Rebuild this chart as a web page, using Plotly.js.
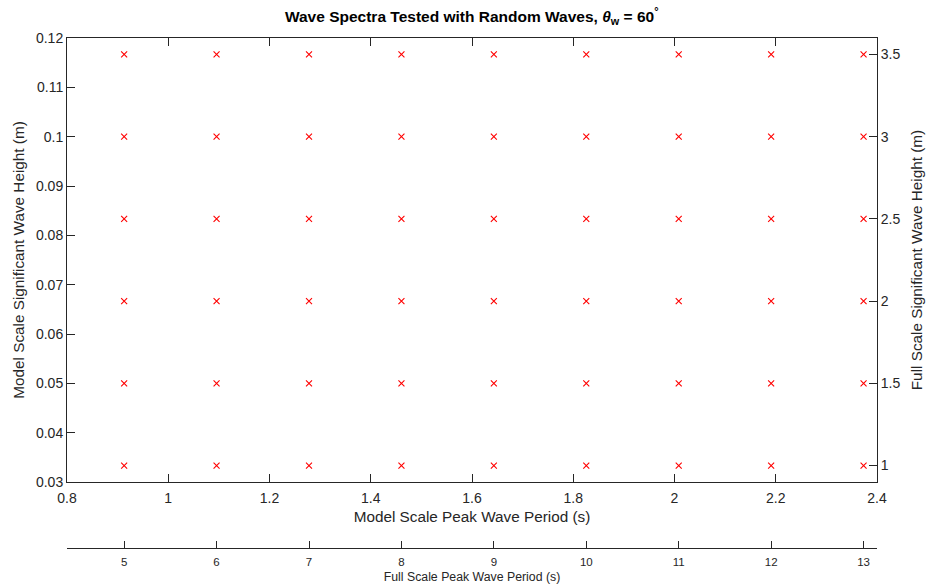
<!DOCTYPE html>
<html>
<head>
<meta charset="utf-8">
<script src="https://cdn.plot.ly/plotly-3.0.1.min.js"></script>
<style>html,body{margin:0;padding:0;background:#fff;}#chart{width:936px;height:585px;}</style>
</head>
<body>
<div id="chart"></div>
<script>
// Full-scale test matrix
const fullScalePeriods = [5, 6, 7, 8, 9, 10, 11, 12, 13];          // s
const fullScaleHeights = [1, 1.5, 2, 2.5, 3, 3.5];                   // m
// Axis ranges
const modelPeriodRange = [0.8, 2.4];
const modelHeightRange = [0.03, 0.12];
const fullPeriodRange = [4.3818, 13.1453];
const fullHeightRange = [0.9, 3.6];

const px = [], py = [];
fullScaleHeights.forEach(h => fullScalePeriods.forEach(t => { px.push(t); py.push(h); }));

const font = "Liberation Sans, Arial, Helvetica, sans-serif";
const dark = "#262626";

const traces = [
  {x: [], y: [], type: 'scatter', mode: 'markers', xaxis: 'x', yaxis: 'y', showlegend: false, hoverinfo: 'skip'},
  {x: px, y: py, type: 'scatter', mode: 'markers', xaxis: 'x2', yaxis: 'y2', showlegend: false,
   marker: {symbol: 'x-thin', size: 6, color: 'rgba(0,0,0,0)', line: {color: '#ff0000', width: 1.1}}}
];

const layout = {
  width: 936, height: 585,
  margin: {l: 67, r: 59, t: 38, b: 37},
  paper_bgcolor: '#fff', plot_bgcolor: '#fff',
  showlegend: false,
  font: {family: font, color: dark, size: 14},
  title: {text: '<b>Wave Spectra Tested with Random Waves, <i>θ</i><sub>w</sub> = 60<sup>°</sup></b>',
          font: {family: font, size: 15.5, color: '#000'}, x: 0.504, xanchor: 'center', y: 0.972, yanchor: 'middle'},
  xaxis: {range: modelPeriodRange, dtick: 0.2, tick0: 0.8, ticks: 'inside', ticklen: 8, tickcolor: dark,
          showline: true, linecolor: dark, linewidth: 1, mirror: 'ticks', showgrid: false, zeroline: false,
          tickfont: {size: 14, color: dark}, anchor: 'y', ticklabelstandoff: 3,
          title: {text: 'Model Scale Peak Wave Period (s)', font: {size: 15.3, color: dark}, standoff: 6}},
  yaxis: {range: modelHeightRange, dtick: 0.01, tick0: 0.03, domain: [0.1294, 1], ticks: 'inside', ticklen: 8, tickcolor: dark,
          showline: true, linecolor: dark, linewidth: 1, mirror: true, showgrid: false, zeroline: false,
          tickfont: {size: 14, color: dark},
          title: {text: 'Model Scale Significant Wave Height (m)', font: {size: 15.3, color: dark}, standoff: 7}},
  yaxis2: {range: fullHeightRange, tickvals: fullScaleHeights, overlaying: 'y', side: 'right', anchor: 'x',
           ticks: 'inside', ticklen: 8, tickcolor: dark, showline: true, linecolor: dark, showgrid: false, zeroline: false,
           tickfont: {size: 14, color: dark},
           title: {text: 'Full Scale Significant Wave Height (m)', font: {size: 15.3, color: dark}, standoff: 11}},
  xaxis2: {range: fullPeriodRange, tickvals: fullScalePeriods, overlaying: 'x', anchor: 'free', position: 0, side: 'bottom',
           ticks: 'inside', ticklen: 7, tickcolor: dark, showline: true, linecolor: dark, showgrid: false, zeroline: false,
           tickfont: {size: 11.5, color: dark}, ticklabelstandoff: 3,
           title: {text: 'Full Scale Peak Wave Period (s)', font: {size: 12.3, color: dark}, standoff: 5}}
};

Plotly.newPlot('chart', traces, layout, {displayModeBar: false, staticPlot: true});
</script>
</body>
</html>
